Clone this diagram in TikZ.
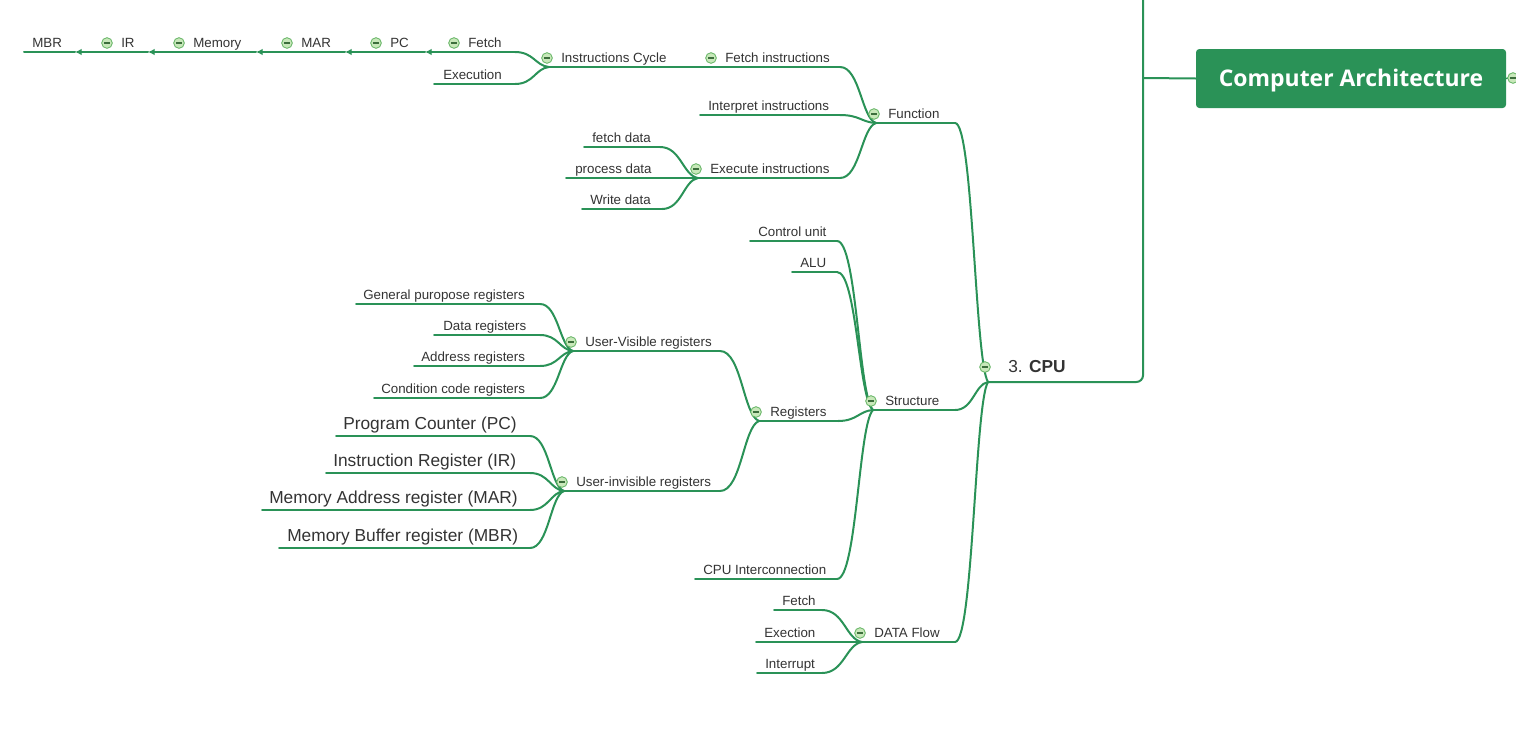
\documentclass[tikz,border=0pt]{standalone}
\usepackage{fontspec}
\setmainfont{Liberation Sans}
\newfontfamily\rootfont{Open Sans}
\usetikzlibrary{calc,arrows.meta}
\definecolor{lg}{RGB}{42,146,87}
\definecolor{mkfill}{RGB}{200,232,186}
\definecolor{mkdraw}{RGB}{96,178,96}
\definecolor{mkbar}{RGB}{60,110,60}
\definecolor{txt}{RGB}{51,51,51}
\tikzset{
  branch/.style={draw=lg, line width=1.5pt, line cap=round},
  lbl/.style={inner sep=0pt, text=txt, font=\fontsize{10}{12}\selectfont},
  big/.style={inner sep=0pt, text=txt, font=\fontsize{13}{15}\selectfont, yshift=1.5pt},
  mk/.style={circle, draw=mkdraw, fill=mkfill, line width=0.6pt, minimum size=8pt, inner sep=0pt,
    path picture={\draw[mkbar, line width=0.8pt]
      ([xshift=-2.3pt]path picture bounding box.center) -- ([xshift=2.3pt]path picture bounding box.center);}},
  conn/.style={to path={let \p1=(\tikztostart), \p2=(\tikztotarget) in
      .. controls ({\x1+0.55*(\x2-\x1)},\y1) and ({\x1+0.6*(\x2-\x1)},{\y2-0.08*(\y2-\y1)}) .. (\tikztotarget)}},
  chainarrow/.style={-{Latex[length=5pt,width=5pt]}}
}
% name, x-left (junction), x-right, y of underline, text x, style, text
\newcommand\tp[7]{%
  \coordinate (#1-l) at (#2,#4);
  \coordinate (#1-r) at (#3,#4);
  \draw[branch] (#1-l) -- (#1-r);
  \node[#6, anchor=base west] (#1) at (#5,#4-5) {#7};}
\newcommand\tpm[7]{%
  \tp{#1}{#2}{#3}{#4}{#5}{#6}{#7}
  \coordinate (#1-m) at (#5-14,#4-9);}
\begin{document}
\begin{tikzpicture}[x=0.75pt,y=-0.75pt]
\useasboundingbox (0,0) rectangle (1516,739);

% ---- root
\node[fill=lg, rounded corners=2.5pt, minimum width=232.5pt, minimum height=44.25pt, inner sep=0pt,
      text height=12.6pt, text depth=0pt,
      text=white, font=\rootfont\bfseries\fontsize{17.2}{20}\selectfont] (root) at (1351,78.5) {Computer Architecture};
\coordinate (rootend) at (1508,78);
\draw[branch, line width=1pt] (root.east) -- (rootend);

% ---- CPU
\coordinate (cpu-l) at (988,382);
\coordinate (cpu-c) at (1143,382);
\coordinate (jt) at (1143,78);
\coordinate (top) at (1143,-4);
\draw[branch, rounded corners=5pt] (top) -- (cpu-c) -- (cpu-l);
\draw[branch] (jt) -- (root.west);
\node[anchor=base west, inner sep=0pt, text=txt, font=\fontsize{13}{15}\selectfont] (cpu) at (1008,372.5) {3. \textbf{CPU}};
\coordinate (cpu-m) at (985,367);

% ---- Function branch
\tp{mbr}{24}{75}{52}{32}{lbl}{MBR}
\tpm{ir}{109}{148}{52}{121}{lbl}{IR}
\tpm{mem}{182}{256}{52}{193}{lbl}{Memory}
\tpm{mar}{289}{345}{52}{301}{lbl}{MAR}
\tpm{pc}{378}{425}{52}{390}{lbl}{PC}
\tpm{fetch}{457}{515}{52}{468}{lbl}{Fetch}
\tp{exe}{434}{515}{84}{443}{lbl}{Execution}
\tpm{ic}{549}{685}{67}{561}{lbl}{Instructions Cycle}
\tpm{fi}{713}{840}{67}{725}{lbl}{Fetch instructions}
\tp{ii}{700}{840}{115}{708}{lbl}{Interpret instructions}
\tpm{fn}{876}{955}{123}{888}{lbl}{Function}
\tp{fd}{584}{660}{147}{592}{lbl}{fetch data}
\tp{pd}{566}{690}{178}{575}{lbl}{process data}
\tp{wd}{582}{662}{209}{590}{lbl}{Write data}
\tpm{ei}{698}{840}{178}{710}{lbl}{Execute instructions}

% ---- Structure branch
\tp{cu}{750}{837}{241}{758}{lbl}{Control unit}
\tp{alu}{792}{837}{272}{800}{lbl}{ALU}
\tp{gp}{356}{540}{304}{363}{lbl}{General puropose registers}
\tp{dr}{434}{540}{335}{443}{lbl}{Data registers}
\tp{ar}{414}{540}{366}{421}{lbl}{Address registers}
\tp{cc}{374}{540}{398}{381}{lbl}{Condition code registers}
\tpm{uv}{573}{720}{351}{585}{lbl}{User-Visible registers}
\tpm{reg}{759}{838}{421}{770}{lbl}{Registers}
\tpm{st}{873}{955}{410}{885}{lbl}{Structure}
\tp{ppc}{336}{530}{436}{343}{big}{Program Counter (PC)}
\tp{pir}{326}{530}{473}{333}{big}{Instruction Register (IR)}
\tp{pmar}{262}{530}{510}{269}{big}{Memory Address register (MAR)}
\tp{pmbr}{279}{530}{548}{287}{big}{Memory Buffer register (MBR)}
\tpm{ui}{564}{720}{491}{576}{lbl}{User-invisible registers}
\tp{ci}{695}{837}{579}{703}{lbl}{CPU Interconnection}

% ---- DATA Flow branch
\tp{dfa}{774}{822}{610}{782}{lbl}{Fetch}
\tp{dfb}{756}{855}{642}{764}{lbl}{Exection}
\tp{dfc}{757}{822}{673}{765}{lbl}{Interrupt}
\tpm{dfl}{862}{955}{642}{874}{lbl}{DATA Flow}

% ---- connectors
\draw[branch, chainarrow] (ir-l) -- (mbr-r);
\draw[branch, chainarrow] (mem-l) -- (ir-r);
\draw[branch, chainarrow] (mar-l) -- (mem-r);
\draw[branch, chainarrow] (pc-l) -- (mar-r);
\draw[branch, chainarrow] (fetch-l) -- (pc-r);

\draw[branch] (fetch-r) to[conn] (ic-l);
\draw[branch] (exe-r) to[conn] (ic-l);
\draw[branch] (ic-r) to[conn] (fi-l);
\draw[branch] (fi-r) to[conn] (fn-l);
\draw[branch] (ii-r) to[conn] (fn-l);
\draw[branch] (ei-r) to[conn] (fn-l);
\draw[branch] (fd-r) to[conn] (ei-l);
\draw[branch] (pd-r) to[conn] (ei-l);
\draw[branch] (wd-r) to[conn] (ei-l);

\draw[branch] (gp-r) to[conn] (uv-l);
\draw[branch] (dr-r) to[conn] (uv-l);
\draw[branch] (ar-r) to[conn] (uv-l);
\draw[branch] (cc-r) to[conn] (uv-l);
\draw[branch] (ppc-r) to[conn] (ui-l);
\draw[branch] (pir-r) to[conn] (ui-l);
\draw[branch] (pmar-r) to[conn] (ui-l);
\draw[branch] (pmbr-r) to[conn] (ui-l);
\draw[branch] (uv-r) to[conn] (reg-l);
\draw[branch] (ui-r) to[conn] (reg-l);
\draw[branch] (cu-r) to[conn] (st-l);
\draw[branch] (alu-r) to[conn] (st-l);
\draw[branch] (reg-r) to[conn] (st-l);
\draw[branch] (ci-r) to[conn] (st-l);

\draw[branch] (dfa-r) to[conn] (dfl-l);
\draw[branch] (dfb-r) to[conn] (dfl-l);
\draw[branch] (dfc-r) to[conn] (dfl-l);

\draw[branch] (fn-r) to[conn] (cpu-l);
\draw[branch] (st-r) to[conn] (cpu-l);
\draw[branch] (dfl-r) to[conn] (cpu-l);

% collapse markers, on top of the lines
\foreach \m in {ir,mem,mar,pc,fetch,ic,fi,fn,ei,uv,ui,st,reg,dfl,cpu}
  \node[mk] (mark-\m) at (\m-m) {};
\node[mk] (mark-root) at (1513,78) {};
\end{tikzpicture}
\end{document}
